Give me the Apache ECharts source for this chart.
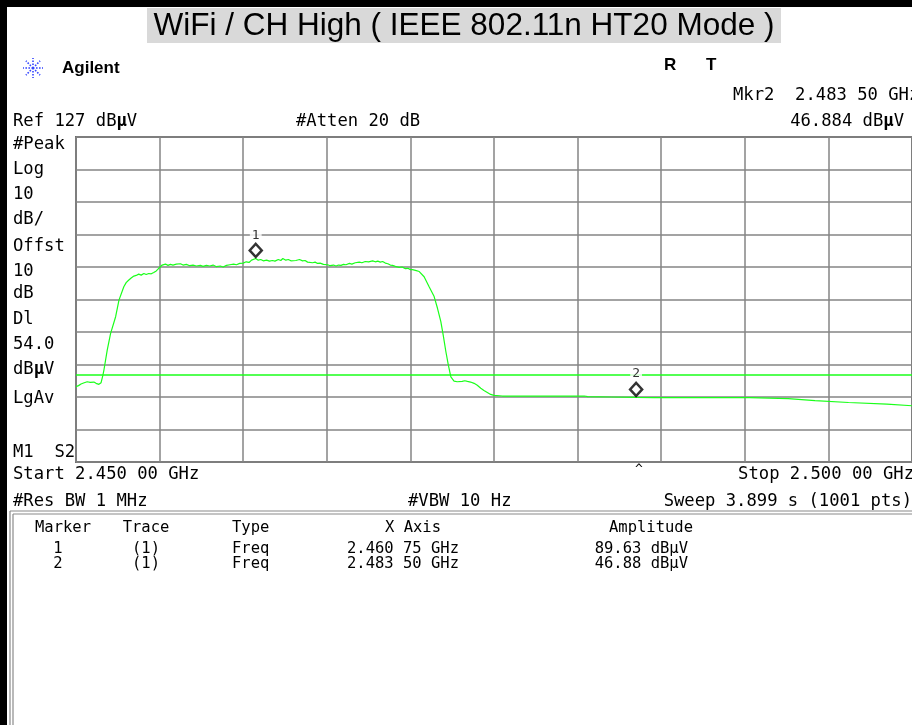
<!DOCTYPE html>
<html>
<head>
<meta charset="utf-8">
<script src="https://cdn.jsdelivr.net/npm/echarts@6/dist/echarts.min.js"></script>
<style>
  html, body { margin: 0; padding: 0; background: #ffffff; }
  #chart { width: 912px; height: 725px; }
</style>
</head>
<body>
<div id="chart"></div>
<script>
// Sweep settings (MHz / dBµV)
const startMHz = 2450;
const stopMHz = 2500;
const refLevel = 127;
const dbPerDiv = 10;
const displayLine = 54.0;

// Trace 1, peak-hold sweep (frequency in MHz)
const traceFreq = [
  2450.00, 2450.15, 2450.30, 2450.45, 2450.67, 2450.85, 2451.07, 2451.20, 2451.37, 2451.50,
  2451.60, 2451.67, 2451.87, 2452.07, 2452.37, 2452.57, 2452.86, 2453.00, 2453.16, 2453.30,
  2453.46, 2453.60, 2453.75, 2453.90, 2454.06, 2454.20, 2454.35, 2454.50, 2454.65, 2454.80,
  2454.95, 2455.05, 2455.15, 2455.35, 2455.50, 2455.65, 2455.80, 2456.00, 2456.25, 2456.40,
  2456.60, 2456.80, 2457.00, 2457.20, 2457.44, 2457.60, 2457.80, 2458.00, 2458.20, 2458.40,
  2458.63, 2458.80, 2459.00, 2459.20, 2459.43, 2459.60, 2459.79, 2460.00, 2460.18, 2460.35,
  2460.50, 2460.75, 2460.90, 2461.05, 2461.20, 2461.40, 2461.57, 2461.75, 2461.90, 2462.10,
  2462.25, 2462.37, 2462.55, 2462.70, 2462.85, 2462.96, 2463.15, 2463.37, 2463.55, 2463.70,
  2463.85, 2463.96, 2464.15, 2464.30, 2464.45, 2464.60, 2464.80, 2465.05, 2465.20, 2465.40,
  2465.55, 2465.70, 2465.85, 2466.00, 2466.15, 2466.35, 2466.50, 2466.70, 2466.94, 2467.10,
  2467.30, 2467.50, 2467.74, 2467.90, 2468.05, 2468.20, 2468.34, 2468.50, 2468.65, 2468.80,
  2468.93, 2469.10, 2469.33, 2469.50, 2469.70, 2469.85, 2470.00, 2470.13, 2470.35, 2470.53,
  2470.82, 2471.12, 2471.42, 2471.62, 2471.82, 2471.96, 2472.12, 2472.27, 2472.42, 2472.61,
  2472.80, 2472.91, 2473.10, 2473.25, 2473.41, 2473.60, 2473.81, 2474.00, 2474.21, 2474.40,
  2474.60, 2474.80, 2475.00, 2475.50, 2476.00, 2478.00, 2480.40, 2480.60, 2482.00, 2483.50,
  2484.60, 2487.00, 2490.30, 2490.35, 2492.60, 2492.65, 2494.20, 2494.25, 2496.20, 2496.25,
  2498.50, 2498.55, 2500.00
];
const traceLevel = [
  50.2, 50.5, 51.0, 51.3, 51.7, 51.5, 51.6, 51.2, 50.9, 51.4,
  53.5, 55.3, 61.5, 66.6, 71.7, 76.8, 80.9, 82.2, 83.0, 83.6,
  84.2, 84.4, 84.8, 84.5, 85.0, 84.7, 85.0, 84.9, 85.3, 85.8,
  86.6, 87.2, 87.6, 87.9, 87.5, 87.8, 87.6, 87.9, 88.0, 87.6,
  87.8, 87.4, 87.6, 87.3, 87.5, 87.2, 87.5, 87.3, 87.6, 87.1,
  87.3, 87.0, 87.5, 87.7, 87.9, 87.7, 88.1, 88.2, 88.6, 88.4,
  89.1, 89.63, 89.1, 89.3, 88.9, 89.1, 88.8, 89.0, 88.8, 89.3,
  89.0, 89.6, 89.1, 89.3, 88.9, 89.2, 89.0, 89.3, 88.9, 89.0,
  88.5, 88.6, 88.3, 88.5, 88.1, 88.2, 87.8, 87.7, 87.4, 87.6,
  87.3, 87.6, 87.5, 87.8, 87.7, 88.1, 87.9, 88.3, 88.5, 88.3,
  88.7, 88.6, 88.9, 88.6, 88.8, 88.5, 88.7, 88.2, 88.0, 87.6,
  87.5, 87.2, 86.9, 87.0, 86.5, 86.6, 86.2, 86.2, 85.9, 85.6,
  84.0, 80.9, 77.9, 74.3, 70.2, 66.1, 61.0, 56.8, 53.2, 51.9,
  51.7, 52.0, 51.8, 52.0, 51.8, 51.6, 51.2, 50.6, 49.7, 49.0,
  48.4, 47.8, 47.5, 47.3, 47.3, 47.3, 47.3, 47.1, 47.0, 46.88,
  46.8, 46.8, 46.8, 46.5, 46.5, 45.9, 45.9, 45.3, 45.3, 44.8,
  44.8, 44.3, 44.3
];

// Markers
const markerNames = ['1', '2'];
const markerFreq = [2460.75, 2483.50];
const markerLevel = [89.63, 46.884];

const GREEN = '#1aff1a';
const MONO = '"DejaVu Sans Mono", "Liberation Mono", monospace';
const SANS = '"Liberation Sans", Arial, sans-serif';

function ghzText(mhz) {
  // 2460.75 MHz -> "2.460 75 GHz"
  const s = (mhz / 1000).toFixed(5);
  return s.slice(0, 5) + ' ' + s.slice(5) + ' GHz';
}

function txt(x, y, text, size, opts) {
  opts = opts || {};
  return {
    type: 'text', silent: true, z: 100,
    style: {
      x: x, y: y, text: text,
      font: (opts.weight || 'normal') + ' ' + size + 'px ' + (opts.family || MONO),
      fill: opts.color || '#000',
      align: opts.align || 'left',
      verticalAlign: 'middle',
      rich: opts.rich
    }
  };
}

// bold µ as shown on the instrument display
function muRich(size) {
  return {
    n: { fontFamily: '"DejaVu Sans Mono", monospace', fontSize: size, fontWeight: 'normal' },
    b: { fontFamily: '"DejaVu Sans Mono", monospace', fontSize: size, fontWeight: 'bold' }
  };
}

const traceData = traceFreq.map((f, i) => [f, traceLevel[i]]);
const markerData = markerFreq.map((f, i) => ({ name: markerNames[i], value: [f, markerLevel[i]] }));

// Agilent logo: dotted star burst
const logo = [];
for (let k = 0; k < 8; k++) {
  const a = k * Math.PI / 4;
  logo.push({
    type: 'line', silent: true,
    shape: { x1: 33 + Math.cos(a) * 3, y1: 68 + Math.sin(a) * 3, x2: 33 + Math.cos(a) * 10, y2: 68 + Math.sin(a) * 10 },
    style: { stroke: '#3344ff', lineWidth: 1.6, lineDash: [1.6, 1.4] }
  });
}
logo.push({ type: 'circle', silent: true, shape: { cx: 33, cy: 68, r: 1.6 }, style: { fill: '#3344ff' } });

const F = 17.2;
const T = 15.5;
const leftLabels = [
  ['#Peak', 145], ['Log', 170], ['10', 195], ['dB/', 220], ['Offst', 247],
  ['10', 272], ['dB', 294], ['Dl', 320], ['54.0', 345], ['dB{b|µ}V', 370], ['LgAv', 399],
  ['M1  S2', 453]
];

const graphics = [
  // frame of the display
  { type: 'rect', silent: true, shape: { x: 0, y: 0, width: 912, height: 7 }, style: { fill: '#000' } },
  { type: 'rect', silent: true, shape: { x: 0, y: 0, width: 7, height: 725 }, style: { fill: '#000' } },
  // title banner
  { type: 'rect', silent: true, shape: { x: 147, y: 8, width: 634, height: 35 }, style: { fill: '#d9d9d9' } },
  txt(464, 26, 'WiFi / CH High ( IEEE 802.11n HT20 Mode )', 31.5, { family: SANS, align: 'center' }),
  // header
  txt(62, 68, 'Agilent', 17, { family: SANS, weight: 'bold' }),
  txt(664, 65, 'R', 17, { family: SANS, weight: 'bold' }),
  txt(706, 65, 'T', 17, { family: SANS, weight: 'bold' }),
  txt(733, 96, 'Mkr' + markerNames[1] + '  ' + ghzText(markerFreq[1]), F),
  txt(904, 122, markerLevel[1].toFixed(3) + ' dB{b|µ}V', F, { align: 'right', rich: muRich(F) }),
  txt(13, 122, 'Ref ' + refLevel + ' dB{b|µ}V', F, { rich: muRich(F) }),
  txt(296, 122, '#Atten 20 dB', F),
  // footer
  txt(13, 475, 'Start ' + ghzText(startMHz), F),
  txt(914, 475, 'Stop ' + ghzText(stopMHz), F, { align: 'right' }),
  txt(635, 470, '^', 13),
  txt(13, 502, '#Res BW 1 MHz', F),
  txt(408, 502, '#VBW 10 Hz', F),
  txt(912, 502, 'Sweep 3.899 s (1001 pts)', F, { align: 'right' }),
  // marker table box
  { type: 'line', silent: true, shape: { x1: 10, y1: 511, x2: 912, y2: 511 }, style: { stroke: '#8a8a8a', lineWidth: 1.2 } },
  { type: 'line', silent: true, shape: { x1: 13, y1: 514, x2: 912, y2: 514 }, style: { stroke: '#8a8a8a', lineWidth: 1.2 } },
  { type: 'line', silent: true, shape: { x1: 10, y1: 511, x2: 10, y2: 725 }, style: { stroke: '#8a8a8a', lineWidth: 1.2 } },
  { type: 'line', silent: true, shape: { x1: 13, y1: 514, x2: 13, y2: 725 }, style: { stroke: '#8a8a8a', lineWidth: 1.2 } },
  txt(63, 528, 'Marker', T, { align: 'center' }),
  txt(146, 528, 'Trace', T, { align: 'center' }),
  txt(232, 528, 'Type', T),
  txt(413, 528, 'X Axis', T, { align: 'center' }),
  txt(651, 528, 'Amplitude', T, { align: 'center' })
].concat(logo);

leftLabels.forEach(function (l) {
  graphics.push(txt(13, l[1], l[0], F, { rich: muRich(F) }));
});
markerNames.forEach(function (n, i) {
  const y = 549 + i * 15;
  graphics.push(txt(58, y, n, T, { align: 'center' }));
  graphics.push(txt(146, y, '(1)', T, { align: 'center' }));
  graphics.push(txt(232, y, 'Freq', T));
  graphics.push(txt(347, y, ghzText(markerFreq[i]), T));
  graphics.push(txt(688, y, markerLevel[i].toFixed(2) + ' dBµV', T, { align: 'right' }));
});

const chart = echarts.init(document.getElementById('chart'), null, { renderer: 'canvas' });
chart.setOption({
  animation: false,
  backgroundColor: '#ffffff',
  grid: {
    left: 76, top: 137, width: 838, height: 325,
    show: true, borderColor: '#6e6e6e', borderWidth: 2, backgroundColor: '#ffffff'
  },
  xAxis: {
    type: 'value', min: startMHz, max: stopMHz, interval: (stopMHz - startMHz) / 10,
    axisLabel: { show: false }, axisTick: { show: false }, axisLine: { show: false },
    splitLine: { show: true, lineStyle: { color: '#858585', width: 1.5 } }
  },
  yAxis: [
    {
      type: 'value', min: refLevel - 10 * dbPerDiv, max: refLevel,
      axisLabel: { show: false }, axisTick: { show: false }, axisLine: { show: false },
      splitLine: { show: false }
    },
    {
      // graticule: 10 vertical divisions
      type: 'value', min: 0, max: 10, interval: 1, position: 'left',
      axisLabel: { show: false }, axisTick: { show: false }, axisLine: { show: false },
      splitLine: { show: true, lineStyle: { color: '#858585', width: 1.5 } }
    }
  ],
  series: [
    {
      type: 'line', yAxisIndex: 0, data: traceData, showSymbol: false, symbol: 'none',
      lineStyle: { color: GREEN, width: 1.2 }, z: 3, silent: true,
      markLine: {
        silent: true, symbol: 'none', label: { show: false },
        lineStyle: { color: GREEN, width: 1.5, type: 'solid' },
        data: [{ yAxis: displayLine }]
      }
    },
    {
      type: 'scatter', yAxisIndex: 0, data: markerData, z: 5, silent: true,
      symbol: 'diamond', symbolSize: [12, 13], symbolOffset: [0, -8],
      itemStyle: { color: '#ffffff', borderColor: '#000000', borderWidth: 2.5 },
      label: {
        show: true, position: 'top', distance: 1, formatter: '{b}',
        fontFamily: MONO, fontSize: 13, color: '#000',
        backgroundColor: '#ffffff', padding: [0, 2, 0, 2]
      }
    }
  ],
  graphic: graphics
});
</script>
</body>
</html>
